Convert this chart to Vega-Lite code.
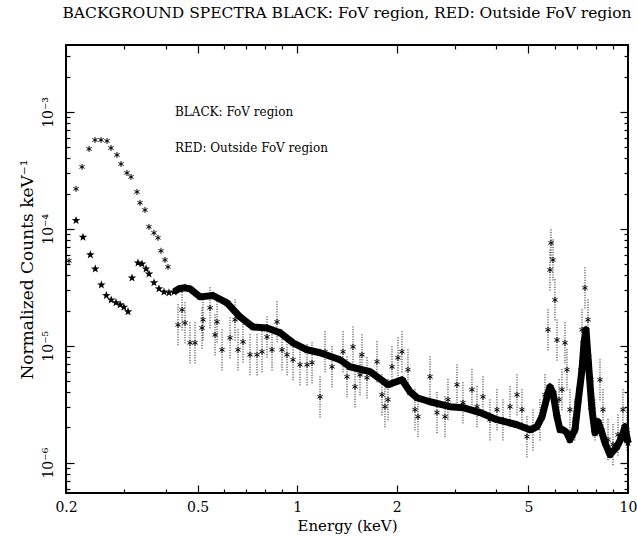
{
  "$schema": "https://vega.github.io/schema/vega-lite/v6.json",
  "width": 562,
  "height": 448,
  "autosize": {"type": "none"},
  "padding": {"left": 66, "top": 45, "right": 9, "bottom": 44},
  "background": "white",
  "title": {"text": "BACKGROUND SPECTRA BLACK: FoV region, RED: Outside FoV region", "font": "DejaVu Serif", "fontSize": 15.5, "fontWeight": "normal", "color": "black", "anchor": "middle", "offset": 23},
  "config": {
    "view": {"stroke": "black", "strokeWidth": 2},
    "axis": {"domain": false, "grid": false, "tickColor": "black", "tickWidth": 1.2, "labelColor": "black", "titleColor": "black", "labelFont": "DejaVu Serif", "titleFont": "DejaVu Serif", "titleFontWeight": "normal", "labelFlush": false, "labelOverlap": false}
  },
  "datasets": {
    "fov": [
      {"E": 0.2145, "v": 1.18e-4, "seg": "a"}, {"E": 0.2251, "v": 8.50e-5, "seg": "a"}, {"E": 0.2369, "v": 6.00e-5, "seg": "a"},
      {"E": 0.2452, "v": 4.55e-5, "seg": "a"}, {"E": 0.2558, "v": 3.32e-5, "seg": "a"}, {"E": 0.2648, "v": 2.69e-5, "seg": "a"},
      {"E": 0.2739, "v": 2.47e-5, "seg": "a"}, {"E": 0.2832, "v": 2.34e-5, "seg": "a"}, {"E": 0.2916, "v": 2.24e-5, "seg": "a"},
      {"E": 0.2992, "v": 2.14e-5, "seg": "a"}, {"E": 0.3080, "v": 1.96e-5, "seg": "a"},
      {"E": 0.3166, "v": 3.81e-5, "seg": "b"}, {"E": 0.3301, "v": 5.12e-5, "seg": "b"}, {"E": 0.3395, "v": 5.02e-5, "seg": "b"},
      {"E": 0.3491, "v": 4.55e-5, "seg": "b"}, {"E": 0.3563, "v": 4.12e-5, "seg": "b"}, {"E": 0.3690, "v": 3.46e-5, "seg": "b"},
      {"E": 0.3820, "v": 3.07e-5, "seg": "b"}, {"E": 0.3956, "v": 2.89e-5, "seg": "b"}, {"E": 0.4096, "v": 2.84e-5, "seg": "b"},
      {"E": 0.4241, "v": 2.89e-5, "seg": "c"}, {"E": 0.4392, "v": 3.07e-5, "seg": "c"}, {"E": 0.4580, "v": 3.13e-5, "seg": "c"},
      {"E": 0.4742, "v": 3.07e-5, "seg": "c"}, {"E": 0.5085, "v": 2.62e-5, "seg": "c"}, {"E": 0.5564, "v": 2.69e-5, "seg": "c"},
      {"E": 0.6134, "v": 2.33e-5, "seg": "c"}, {"E": 0.6714, "v": 1.77e-5, "seg": "c"}, {"E": 0.7350, "v": 1.45e-5, "seg": "c"},
      {"E": 0.8106, "v": 1.42e-5, "seg": "c"}, {"E": 0.8874, "v": 1.29e-5, "seg": "c"}, {"E": 0.9712, "v": 1.06e-5, "seg": "c"},
      {"E": 1.071, "v": 9.24e-6, "seg": "c"}, {"E": 1.172, "v": 8.71e-6, "seg": "c"}, {"E": 1.347, "v": 7.59e-6, "seg": "c"},
      {"E": 1.444, "v": 6.61e-6, "seg": "c"}, {"E": 1.660, "v": 6.00e-6, "seg": "c"}, {"E": 1.881, "v": 4.64e-6, "seg": "c"},
      {"E": 2.074, "v": 5.12e-6, "seg": "c"}, {"E": 2.193, "v": 4.04e-6, "seg": "c"}, {"E": 2.302, "v": 3.59e-6, "seg": "c"},
      {"E": 2.520, "v": 3.32e-6, "seg": "c"}, {"E": 2.897, "v": 3.01e-6, "seg": "c"}, {"E": 3.171, "v": 2.95e-6, "seg": "c"},
      {"E": 3.570, "v": 2.68e-6, "seg": "c"}, {"E": 4.018, "v": 2.33e-6, "seg": "c"}, {"E": 4.617, "v": 2.11e-6, "seg": "c"},
      {"E": 5.054, "v": 1.91e-6, "seg": "c"}, {"E": 5.306, "v": 2.03e-6, "seg": "c"}, {"E": 5.497, "v": 2.47e-6, "seg": "c"},
      {"E": 5.692, "v": 3.66e-6, "seg": "c"}, {"E": 5.809, "v": 4.46e-6, "seg": "c"}, {"E": 5.931, "v": 3.96e-6, "seg": "c"},
      {"E": 6.099, "v": 2.47e-6, "seg": "c"}, {"E": 6.229, "v": 1.91e-6, "seg": "c"}, {"E": 6.360, "v": 1.91e-6, "seg": "c"},
      {"E": 6.540, "v": 1.80e-6, "seg": "c"}, {"E": 6.678, "v": 1.57e-6, "seg": "c"}, {"E": 6.914, "v": 1.91e-6, "seg": "c"},
      {"E": 7.060, "v": 3.26e-6, "seg": "c"}, {"E": 7.260, "v": 6.24e-6, "seg": "c"}, {"E": 7.362, "v": 1.06e-5, "seg": "c"},
      {"E": 7.466, "v": 1.37e-5, "seg": "c"}, {"E": 7.568, "v": 8.05e-6, "seg": "c"}, {"E": 7.782, "v": 2.84e-6, "seg": "c"},
      {"E": 7.946, "v": 1.80e-6, "seg": "c"}, {"E": 8.114, "v": 2.24e-6, "seg": "c"}, {"E": 8.286, "v": 1.91e-6, "seg": "c"},
      {"E": 8.519, "v": 1.48e-6, "seg": "c"}, {"E": 8.822, "v": 1.17e-6, "seg": "c"}, {"E": 9.262, "v": 1.37e-6, "seg": "c"},
      {"E": 9.590, "v": 1.67e-6, "seg": "c"}, {"E": 9.793, "v": 2.03e-6, "seg": "c"}, {"E": 9.998, "v": 1.48e-6, "seg": "c"}
    ],
    "out": [
      {"E": 0.2042, "v": 5.33e-5}, {"E": 0.2145, "v": 2.20e-4}, {"E": 0.2236, "v": 3.39e-4}, {"E": 0.2348, "v": 4.83e-4},
      {"E": 0.2448, "v": 5.76e-4}, {"E": 0.2552, "v": 5.76e-4}, {"E": 0.2661, "v": 5.65e-4}, {"E": 0.2736, "v": 4.92e-4},
      {"E": 0.2852, "v": 4.29e-4}, {"E": 0.2933, "v": 3.59e-4}, {"E": 0.3058, "v": 3.01e-4}, {"E": 0.3145, "v": 2.78e-4},
      {"E": 0.3278, "v": 2.07e-4}, {"E": 0.3348, "v": 1.67e-4}, {"E": 0.3466, "v": 1.45e-4}, {"E": 0.3563, "v": 1.04e-4},
      {"E": 0.3690, "v": 9.24e-5}, {"E": 0.3794, "v": 8.38e-5}, {"E": 0.3874, "v": 6.49e-5}, {"E": 0.3984, "v": 5.43e-5},
      {"E": 0.4068, "v": 4.73e-5},
      {"E": 0.4362, "v": 1.51e-5, "lo": 1.01e-5, "hi": 2.27e-5}, {"E": 0.4486, "v": 2.03e-5, "lo": 1.35e-5, "hi": 3.05e-5},
      {"E": 0.4580, "v": 1.57e-5, "lo": 1.05e-5, "hi": 2.36e-5}, {"E": 0.4742, "v": 1.06e-5, "lo": 7.07e-6, "hi": 1.59e-5},
      {"E": 0.4910, "v": 1.06e-5, "lo": 7.07e-6, "hi": 1.59e-5}, {"E": 0.5155, "v": 1.42e-5, "lo": 9.47e-6, "hi": 2.13e-5},
      {"E": 0.5191, "v": 1.67e-5, "lo": 1.11e-5, "hi": 2.51e-5}, {"E": 0.5451, "v": 2.11e-5, "lo": 1.41e-5, "hi": 3.17e-5},
      {"E": 0.5644, "v": 1.24e-5, "lo": 8.27e-6, "hi": 1.86e-5}, {"E": 0.5723, "v": 1.60e-5, "lo": 1.07e-5, "hi": 2.40e-5},
      {"E": 0.5925, "v": 9.24e-6, "lo": 6.16e-6, "hi": 1.39e-5}, {"E": 0.6265, "v": 1.17e-5, "lo": 7.80e-6, "hi": 1.76e-5},
      {"E": 0.6486, "v": 1.67e-5, "lo": 1.11e-5, "hi": 2.51e-5}, {"E": 0.6623, "v": 9.24e-6, "lo": 6.16e-6, "hi": 1.39e-5},
      {"E": 0.6858, "v": 1.08e-5, "lo": 7.20e-6, "hi": 1.62e-5}, {"E": 0.7200, "v": 8.38e-6, "lo": 5.59e-6, "hi": 1.26e-5},
      {"E": 0.7560, "v": 8.38e-6, "lo": 5.59e-6, "hi": 1.26e-5}, {"E": 0.7827, "v": 8.89e-6, "lo": 5.93e-6, "hi": 1.33e-5},
      {"E": 0.8104, "v": 1.19e-5, "lo": 7.93e-6, "hi": 1.79e-5}, {"E": 0.8391, "v": 9.24e-6, "lo": 6.16e-6, "hi": 1.39e-5},
      {"E": 0.8688, "v": 1.60e-5, "lo": 1.07e-5, "hi": 2.40e-5}, {"E": 0.8996, "v": 9.24e-6, "lo": 6.16e-6, "hi": 1.39e-5},
      {"E": 0.9314, "v": 8.38e-6, "lo": 5.59e-6, "hi": 1.26e-5}, {"E": 0.9712, "v": 7.59e-6, "lo": 5.06e-6, "hi": 1.14e-5},
      {"E": 1.0197, "v": 6.88e-6, "lo": 4.59e-6, "hi": 1.03e-5}, {"E": 1.0707, "v": 6.88e-6, "lo": 4.59e-6, "hi": 1.03e-5},
      {"E": 1.1086, "v": 7.16e-6, "lo": 4.77e-6, "hi": 1.07e-5}, {"E": 1.1721, "v": 3.66e-6, "lo": 2.44e-6, "hi": 5.49e-6},
      {"E": 1.2136, "v": 8.89e-6, "lo": 5.93e-6, "hi": 1.33e-5}, {"E": 1.2742, "v": 6.61e-6, "lo": 4.41e-6, "hi": 9.92e-6},
      {"E": 1.3754, "v": 8.89e-6, "lo": 5.93e-6, "hi": 1.33e-5}, {"E": 1.4143, "v": 5.43e-6, "lo": 3.62e-6, "hi": 8.15e-6},
      {"E": 1.4745, "v": 9.80e-6, "lo": 6.53e-6, "hi": 1.47e-5}, {"E": 1.4952, "v": 4.46e-6, "lo": 2.97e-6, "hi": 6.69e-6},
      {"E": 1.5481, "v": 5.65e-6, "lo": 3.77e-6, "hi": 8.48e-6}, {"E": 1.5698, "v": 8.38e-6, "lo": 5.59e-6, "hi": 1.26e-5},
      {"E": 1.6254, "v": 5.33e-6, "lo": 3.55e-6, "hi": 8.00e-6}, {"E": 1.7426, "v": 7.30e-6, "lo": 4.87e-6, "hi": 1.10e-5},
      {"E": 1.8043, "v": 3.81e-6, "lo": 2.54e-6, "hi": 5.72e-6}, {"E": 1.8423, "v": 3.01e-6, "lo": 2.01e-6, "hi": 4.52e-6},
      {"E": 1.8812, "v": 3.46e-6, "lo": 2.31e-6, "hi": 5.19e-6}, {"E": 1.9344, "v": 6.61e-6, "lo": 4.41e-6, "hi": 9.92e-6},
      {"E": 2.0167, "v": 7.89e-6, "lo": 5.26e-6, "hi": 1.18e-5}, {"E": 2.0738, "v": 8.89e-6, "lo": 5.93e-6, "hi": 1.33e-5},
      {"E": 2.1620, "v": 6.24e-6, "lo": 4.16e-6, "hi": 9.36e-6}, {"E": 2.2700, "v": 2.84e-6, "lo": 1.89e-6, "hi": 4.26e-6},
      {"E": 2.3180, "v": 2.47e-6, "lo": 1.65e-6, "hi": 3.71e-6}, {"E": 2.5200, "v": 5.43e-6, "lo": 3.62e-6, "hi": 8.15e-6},
      {"E": 2.6458, "v": 2.68e-6, "lo": 1.79e-6, "hi": 4.02e-6}, {"E": 2.7974, "v": 2.47e-6, "lo": 1.65e-6, "hi": 3.71e-6},
      {"E": 2.8564, "v": 3.46e-6, "lo": 2.31e-6, "hi": 5.19e-6}, {"E": 3.0408, "v": 4.64e-6, "lo": 3.09e-6, "hi": 6.96e-6},
      {"E": 3.1706, "v": 3.26e-6, "lo": 2.17e-6, "hi": 4.89e-6}, {"E": 3.3754, "v": 4.21e-6, "lo": 2.81e-6, "hi": 6.32e-6},
      {"E": 3.4950, "v": 3.01e-6, "lo": 2.01e-6, "hi": 4.52e-6}, {"E": 3.6442, "v": 3.66e-6, "lo": 2.44e-6, "hi": 5.49e-6},
      {"E": 3.8260, "v": 2.33e-6, "lo": 1.55e-6, "hi": 3.50e-6}, {"E": 4.0170, "v": 2.84e-6, "lo": 1.89e-6, "hi": 4.26e-6},
      {"E": 4.1886, "v": 2.33e-6, "lo": 1.55e-6, "hi": 3.50e-6}, {"E": 4.3976, "v": 3.01e-6, "lo": 2.01e-6, "hi": 4.52e-6},
      {"E": 4.6170, "v": 3.81e-6, "lo": 2.54e-6, "hi": 5.72e-6}, {"E": 4.7802, "v": 2.84e-6, "lo": 1.89e-6, "hi": 4.26e-6},
      {"E": 4.9496, "v": 1.67e-6, "lo": 1.11e-6, "hi": 2.51e-6}, {"E": 5.1606, "v": 1.91e-6, "lo": 1.27e-6, "hi": 2.87e-6},
      {"E": 5.4182, "v": 2.33e-6, "lo": 1.55e-6, "hi": 3.50e-6}, {"E": 5.6108, "v": 3.81e-6, "lo": 2.54e-6, "hi": 5.72e-6},
      {"E": 5.7292, "v": 1.37e-5, "lo": 9.13e-6, "hi": 2.06e-5}, {"E": 5.8096, "v": 4.46e-5, "lo": 2.97e-5, "hi": 6.69e-5},
      {"E": 5.8502, "v": 7.59e-5, "lo": 5.62e-5, "hi": 1.02e-4}, {"E": 5.9322, "v": 5.43e-5, "lo": 3.62e-5, "hi": 8.15e-5},
      {"E": 6.0154, "v": 2.47e-5, "lo": 1.65e-5, "hi": 3.71e-5}, {"E": 6.0998, "v": 1.12e-5, "lo": 7.47e-6, "hi": 1.68e-5},
      {"E": 6.1854, "v": 3.46e-6, "lo": 2.31e-6, "hi": 5.19e-6}, {"E": 6.3160, "v": 4.21e-6, "lo": 2.81e-6, "hi": 6.32e-6},
      {"E": 6.4492, "v": 1.06e-5, "lo": 7.07e-6, "hi": 1.59e-5}, {"E": 6.5396, "v": 6.24e-6, "lo": 4.16e-6, "hi": 9.36e-6},
      {"E": 6.6776, "v": 2.84e-6, "lo": 1.89e-6, "hi": 4.26e-6}, {"E": 6.9140, "v": 2.33e-6, "lo": 1.55e-6, "hi": 3.50e-6},
      {"E": 7.1094, "v": 4.21e-6, "lo": 2.81e-6, "hi": 6.32e-6}, {"E": 7.2596, "v": 1.37e-5, "lo": 9.13e-6, "hi": 2.06e-5},
      {"E": 7.4128, "v": 3.13e-5, "lo": 2.09e-5, "hi": 4.70e-5}, {"E": 7.5692, "v": 1.67e-5, "lo": 1.11e-5, "hi": 2.51e-5},
      {"E": 7.7290, "v": 5.12e-6, "lo": 3.41e-6, "hi": 7.68e-6}, {"E": 7.9472, "v": 2.33e-6, "lo": 1.55e-6, "hi": 3.50e-6},
      {"E": 8.2288, "v": 5.12e-6, "lo": 3.41e-6, "hi": 7.68e-6}, {"E": 8.4024, "v": 2.84e-6, "lo": 1.89e-6, "hi": 4.26e-6},
      {"E": 8.6998, "v": 1.57e-6, "lo": 1.05e-6, "hi": 2.36e-6}, {"E": 9.0078, "v": 1.43e-6, "lo": 9.53e-7, "hi": 2.15e-6},
      {"E": 9.3266, "v": 1.73e-6, "lo": 1.15e-6, "hi": 2.60e-6}, {"E": 9.6568, "v": 2.84e-6, "lo": 1.89e-6, "hi": 4.26e-6},
      {"E": 9.9296, "v": 1.91e-6, "lo": 1.27e-6, "hi": 2.87e-6}
    ],
    "notes": [
      {"E": 0.427, "v": 1.0e-3, "label": "BLACK: FoV region"},
      {"E": 0.427, "v": 4.92e-4, "label": "RED: Outside FoV region"}
    ]
  },
  "resolve": {"axis": {"x": "independent", "y": "independent"}},
  "layer": [
    {
      "data": {"name": "fov"},
      "transform": [{"filter": "datum.seg == 'c'"}],
      "mark": {"type": "line", "color": "black", "strokeWidth": 7, "strokeJoin": "round"},
      "encoding": {
        "x": {"field": "E", "type": "quantitative", "scale": {"type": "log", "domain": [0.2, 10], "nice": false},
              "axis": {"orient": "bottom", "values": [0.2, 0.5, 1, 2, 5, 10], "format": "~g", "tickSize": -8, "labelPadding": 15, "labelFontSize": 14, "title": "Energy (keV)", "titleFontSize": 15, "titlePadding": 4}},
        "y": {"field": "v", "type": "quantitative", "scale": {"type": "log", "domain": [5.5e-7, 3.74e-3], "nice": false},
              "axis": {"orient": "left", "values": [1e-6, 1e-5, 1e-4, 1e-3], "tickSize": -8, "labelPadding": 19, "labelFontSize": 14, "labelAngle": -90, "labelAlign": "center", "labelBaseline": "bottom",
                       "labelExpr": "'10' + (round(log(datum.value)/LN10) == -3 ? '⁻³' : round(log(datum.value)/LN10) == -4 ? '⁻⁴' : round(log(datum.value)/LN10) == -5 ? '⁻⁵' : '⁻⁶')",
                       "title": "Normalized Counts keV⁻¹", "titleFontSize": 17, "titlePadding": 5}}
      }
    },
    {
      "data": {"name": "fov"},
      "mark": {"type": "point", "shape": "M0,-1L0.235,-0.324L0.951,-0.309L0.38,0.124L0.588,0.809L0,0.4L-0.588,0.809L-0.38,0.124L-0.951,-0.309L-0.235,-0.324Z", "filled": true, "color": "black", "size": 80, "opacity": 1},
      "encoding": {
        "x": {"field": "E", "type": "quantitative", "scale": {"type": "log", "domain": [0.2, 10], "nice": false},
              "axis": {"orient": "top", "values": [0.2, 0.5, 1, 2, 5, 10], "tickSize": -8, "labels": false, "title": null}},
        "y": {"field": "v", "type": "quantitative", "scale": {"type": "log", "domain": [5.5e-7, 3.74e-3], "nice": false},
              "axis": {"orient": "right", "values": [1e-6, 1e-5, 1e-4, 1e-3], "tickSize": -8, "labels": false, "title": null}}
      }
    },
    {
      "data": {"name": "out"},
      "mark": {"type": "rule", "color": "black", "strokeWidth": 1, "strokeDash": [1, 1.5]},
      "encoding": {
        "x": {"field": "E", "type": "quantitative", "scale": {"type": "log", "domain": [0.2, 10], "nice": false},
              "axis": {"orient": "bottom", "values": [0.3, 0.4, 0.6, 0.7, 0.8, 0.9, 3, 4, 6, 7, 8, 9], "tickSize": -4, "labels": false, "title": null}},
        "y": {"field": "lo", "type": "quantitative", "scale": {"type": "log", "domain": [5.5e-7, 3.74e-3], "nice": false},
              "axis": {"orient": "left", "values": [6e-7, 7e-7, 8e-7, 9e-7, 2e-6, 3e-6, 4e-6, 5e-6, 6e-6, 7e-6, 8e-6, 9e-6, 2e-5, 3e-5, 4e-5, 5e-5, 6e-5, 7e-5, 8e-5, 9e-5, 2e-4, 3e-4, 4e-4, 5e-4, 6e-4, 7e-4, 8e-4, 9e-4, 2e-3, 3e-3], "tickSize": -4, "labels": false, "title": null}},
        "y2": {"field": "hi"}
      }
    },
    {
      "data": {"name": "out"},
      "mark": {"type": "point", "shape": "M0,-1L0,1M-0.87,-0.5L0.87,0.5M-0.87,0.5L0.87,-0.5", "filled": false, "color": "black", "strokeWidth": 1, "size": 36, "opacity": 1},
      "encoding": {
        "x": {"field": "E", "type": "quantitative", "scale": {"type": "log", "domain": [0.2, 10], "nice": false},
              "axis": {"orient": "top", "values": [0.3, 0.4, 0.6, 0.7, 0.8, 0.9, 3, 4, 6, 7, 8, 9], "tickSize": -4, "labels": false, "title": null}},
        "y": {"field": "v", "type": "quantitative", "scale": {"type": "log", "domain": [5.5e-7, 3.74e-3], "nice": false},
              "axis": {"orient": "right", "values": [6e-7, 7e-7, 8e-7, 9e-7, 2e-6, 3e-6, 4e-6, 5e-6, 6e-6, 7e-6, 8e-6, 9e-6, 2e-5, 3e-5, 4e-5, 5e-5, 6e-5, 7e-5, 8e-5, 9e-5, 2e-4, 3e-4, 4e-4, 5e-4, 6e-4, 7e-4, 8e-4, 9e-4, 2e-3, 3e-3], "tickSize": -4, "labels": false, "title": null}}
      }
    },
    {
      "data": {"name": "notes"},
      "mark": {"type": "text", "align": "left", "baseline": "middle", "font": "DejaVu Serif", "fontSize": 12, "color": "black"},
      "encoding": {
        "x": {"field": "E", "type": "quantitative", "scale": {"type": "log", "domain": [0.2, 10], "nice": false}, "axis": null},
        "y": {"field": "v", "type": "quantitative", "scale": {"type": "log", "domain": [5.5e-7, 3.74e-3], "nice": false}, "axis": null},
        "text": {"field": "label"}
      }
    }
  ]
}
